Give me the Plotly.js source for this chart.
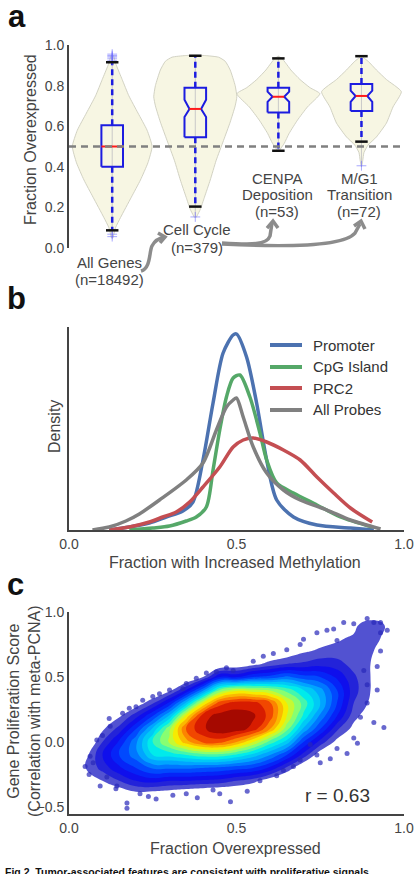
<!DOCTYPE html>
<html><head><meta charset="utf-8">
<script src="https://cdn.plot.ly/plotly-3.0.1.min.js"></script>
<style>html,body{margin:0;padding:0;background:#fff;}#chart{width:414px;height:874px;}</style>
</head><body><div id="chart"></div>
<script>
// ================= Panel a : fraction overexpressed by gene set =================
const groupNames = ['All Genes', 'Cell Cycle', 'CENPA Deposition', 'M/G1 Transition'];
const groupLabelLines = [['All Genes'], ['Cell Cycle'], ['CENPA', 'Deposition'], ['M/G1', 'Transition']];
const groupN = [18492, 379, 53, 72];
const groupPos = [1, 2, 3, 4];
const boxQ1 = [0.400, 0.545, 0.668, 0.675];
const boxMedian = [0.500, 0.685, 0.745, 0.749];
const boxQ3 = [0.605, 0.790, 0.790, 0.808];
const notchLo = [0.500, 0.645, 0.720, 0.720];
const notchHi = [0.500, 0.730, 0.770, 0.775];
const whiskerLo = [0.087, 0.204, 0.479, 0.524];
const whiskerHi = [0.915, 0.947, 0.934, 0.945];
const boxNotched = [false, true, true, true];
const outlierGroup = [1, 1, 1, 1, 1, 1, 1, 2, 4];
const outlierValue = [0.925, 0.935, 0.942, 0.948, 0.955, 0.056, 0.068, 0.153, 0.405];
const violinLevels = [
  [0.05, 0.10, 0.15, 0.25, 0.335, 0.42, 0.50, 0.58, 0.665, 0.75, 0.83, 0.90, 0.95],
  [0.15, 0.19, 0.25, 0.335, 0.43, 0.53, 0.62, 0.70, 0.745, 0.80, 0.877, 0.92, 0.94, 0.948, 0.95],
  [0.48, 0.515, 0.565, 0.63, 0.695, 0.76, 0.79, 0.83, 0.877, 0.91, 0.935, 0.945],
  [0.40, 0.43, 0.47, 0.507, 0.547, 0.615, 0.695, 0.77, 0.83, 0.877, 0.92, 0.945]
];
const violinHalfWidth = [
  [0.01, 0.04, 0.10, 0.23, 0.34, 0.43, 0.48, 0.42, 0.31, 0.20, 0.12, 0.05, 0.01],
  [0.01, 0.06, 0.11, 0.18, 0.25, 0.34, 0.42, 0.48, 0.50, 0.48, 0.42, 0.36, 0.28, 0.12, 0.0],
  [0.01, 0.07, 0.13, 0.23, 0.35, 0.50, 0.38, 0.26, 0.15, 0.09, 0.04, 0.0],
  [0.0, 0.015, 0.03, 0.08, 0.18, 0.30, 0.38, 0.48, 0.30, 0.18, 0.08, 0.0]
];
const refLine = 0.5;

// ================= Panel b : methylation densities =================
const seriesNames = ['Promoter', 'CpG Island', 'PRC2', 'All Probes'];
const seriesColors = ['#4c72b0', '#55a868', '#c44e52', '#808080'];
const promoterX = [0.12, 0.18, 0.24, 0.29, 0.34, 0.37, 0.40, 0.43, 0.46, 0.49, 0.50, 0.53, 0.56, 0.59, 0.62, 0.67, 0.74, 0.84, 0.91];
const promoterY = [0.0, 0.03, 0.07, 0.13, 0.19, 0.28, 0.70, 1.27, 1.77, 1.95, 1.96, 1.73, 1.27, 0.70, 0.30, 0.13, 0.05, 0.02, 0.0];
const cpgX = [0.18, 0.25, 0.30, 0.35, 0.38, 0.41, 0.43, 0.45, 0.47, 0.49, 0.51, 0.54, 0.57, 0.59, 0.62, 0.67, 0.74, 0.81, 0.905];
const cpgY = [0.0, 0.02, 0.04, 0.09, 0.13, 0.23, 0.60, 1.00, 1.33, 1.52, 1.55, 1.33, 0.97, 0.70, 0.47, 0.37, 0.25, 0.13, 0.03];
const prc2X = [0.12, 0.18, 0.24, 0.28, 0.32, 0.36, 0.40, 0.45, 0.49, 0.52, 0.55, 0.59, 0.64, 0.69, 0.74, 0.79, 0.84, 0.905];
const prc2Y = [0.0, 0.03, 0.08, 0.13, 0.18, 0.28, 0.43, 0.63, 0.83, 0.90, 0.92, 0.88, 0.80, 0.70, 0.53, 0.37, 0.22, 0.08];
const allProbesX = [0.07, 0.12, 0.17, 0.21, 0.27, 0.35, 0.40, 0.44, 0.47, 0.49, 0.50, 0.52, 0.55, 0.59, 0.64, 0.69, 0.77, 0.84, 0.93];
const allProbesY = [0.0, 0.03, 0.09, 0.16, 0.30, 0.50, 0.67, 1.00, 1.23, 1.30, 1.32, 1.13, 0.83, 0.57, 0.40, 0.30, 0.20, 0.10, 0.01];

// ================= Panel c : proliferation score vs fraction overexpressed =================
const gridX = [0.00, 0.05, 0.10, 0.15, 0.20, 0.25, 0.30, 0.35, 0.40, 0.45, 0.50, 0.55, 0.60, 0.65, 0.70, 0.75, 0.80, 0.85, 0.90, 0.95, 1.00];
const gridY = [-0.5, -0.4, -0.3, -0.2, -0.1, 0.0, 0.1, 0.2, 0.3, 0.4, 0.5, 0.6, 0.7, 0.8, 0.9, 1.0];
// point density (0 = no genes, 10 = densest), one row per gridY value
const densityZ = [
  /* -0.5 */ [0, 0, 0, 0, 0, 0, 0, 0, 0, 0, 0, 0, 0, 0, 0, 0, 0, 0, 0, 0, 0],
  /* -0.4 */ [0, 0, 0.2, 0.5, 0.8, 0.7, 0.6, 0.4, 0.3, 0.2, 0.2, 0, 0, 0, 0, 0, 0, 0, 0, 0, 0],
  /* -0.3 */ [0, 0.5, 1.0, 1.5, 2.0, 2.2, 2.0, 2.0, 1.9, 1.8, 1.5, 1.2, 0.6, 0.1, 0, 0, 0, 0, 0, 0, 0],
  /* -0.2 */ [0, 1.0, 1.7, 2.4, 3.0, 3.6, 3.6, 3.6, 3.5, 3.4, 3.2, 3.0, 2.4, 1.4, 0.4, 0, 0, 0, 0, 0, 0],
  /* -0.1 */ [0, 0.8, 2.0, 3.0, 3.8, 5.0, 5.2, 5.5, 5.8, 5.8, 5.4, 4.8, 4.0, 3.0, 1.8, 0.6, 0.1, 0, 0, 0, 0],
  /*  0.0 */ [0, 0.2, 1.5, 2.6, 3.9, 5.5, 6.6, 7.8, 8.6, 8.7, 8.0, 7.0, 5.8, 4.8, 3.0, 1.8, 0.8, 0.2, 0, 0, 0],
  /*  0.1 */ [0, 0, 0.9, 1.7, 3.0, 4.6, 6.4, 8.6, 9.4, 9.9, 9.8, 9.3, 8.0, 6.2, 4.4, 3.0, 1.6, 0.8, 0.2, 0, 0],
  /*  0.2 */ [0, 0, 0.2, 0.9, 1.8, 3.0, 4.6, 7.2, 9.3, 9.7, 9.8, 9.6, 8.8, 7.0, 5.4, 3.9, 2.5, 1.2, 0.6, 0, 0],
  /*  0.3 */ [0, 0, 0, 0.2, 0.6, 1.4, 2.6, 4.6, 7.0, 8.8, 9.2, 9.2, 8.6, 7.0, 5.8, 4.5, 3.0, 1.5, 0.9, 0, 0],
  /*  0.4 */ [0, 0, 0, 0, 0, 0.2, 0.8, 2.0, 3.8, 6.0, 6.8, 6.6, 6.4, 5.8, 5.0, 4.2, 3.0, 1.7, 1.0, 0, 0],
  /*  0.5 */ [0, 0, 0, 0, 0, 0, 0, 0.2, 1.0, 2.5, 2.4, 3.0, 3.2, 3.6, 3.2, 3.0, 2.4, 1.6, 1.0, 0.2, 0],
  /*  0.6 */ [0, 0, 0, 0, 0, 0, 0, 0, 0, 0.3, 0.5, 0.8, 1.2, 1.5, 1.6, 1.8, 1.7, 1.3, 1.0, 0.4, 0],
  /*  0.7 */ [0, 0, 0, 0, 0, 0, 0, 0, 0, 0, 0, 0, 0.3, 0.5, 0.9, 1.1, 1.2, 1.2, 1.1, 0.6, 0],
  /*  0.8 */ [0, 0, 0, 0, 0, 0, 0, 0, 0, 0, 0, 0, 0, 0, 0.3, 0.7, 0.9, 1.1, 1.3, 0.8, 0],
  /*  0.9 */ [0, 0, 0, 0, 0, 0, 0, 0, 0, 0, 0, 0, 0, 0, 0, 0.1, 0.4, 0.8, 1.5, 0.9, 0],
  /*  1.0 */ [0, 0, 0, 0, 0, 0, 0, 0, 0, 0, 0, 0, 0, 0, 0, 0, 0, 0, 0.1, 0, 0]
];
// sparse genes visible outside / at the fringe of the dense cloud
const edgeX = [0.048, 0.083, 0.123, 0.173, 0.173, 0.093, 0.237, 0.383, 0.482, 0.532, 0.94, 0.861, 0.83, 0.78, 0.75, 0.72, 0.61, 0.55, 0.49, 0.22, 0.20, 0.30, 0.34, 0.89, 0.92, 0.92, 0.88, 0.93, 0.93, 0.91, 0.89, 0.85, 0.79, 0.74, 0.69, 0.65, 0.80, 0.072, 0.063, 0.113, 0.143, 0.212, 0.31, 0.43, 0.64, 0.69, 0.87, 0.89, 0.16, 0.25, 0.41, 0.44, 0.35,
  0.26, 0.35, 0.45, 0.57, 0.62, 0.67, 0.74, 0.80, 0.85, 0.12, 0.18, 0.27, 0.38, 0.47, 0.58, 0.70, 0.77, 0.82, 0.93, 0.95, 0.91, 0.06, 0.10, 0.14];
const edgeY = [-0.19, 0.015, 0.12, -0.51, -0.47, -0.34, -0.42, -0.43, -0.46, -0.38, 0.11, -0.01, -0.09, -0.13, -0.16, -0.02, 0.68, 0.62, 0.55, 0.32, 0.27, 0.40, 0.41, 0.44, 0.40, 0.58, 0.55, 0.84, 0.92, 0.92, 0.95, 0.91, 0.87, 0.84, 0.75, 0.71, 0.78, -0.16, -0.11, -0.27, -0.34, -0.40, -0.41, -0.37, -0.22, -0.14, 0.19, 0.30, 0.22, 0.35, 0.53, 0.54, 0.45,
  -0.44, -0.40, -0.40, -0.30, -0.26, -0.19, -0.10, -0.05, 0.03, 0.18, 0.26, 0.37, 0.49, 0.57, 0.66, 0.79, 0.86, 0.92, 0.70, 0.86, 0.15, -0.25, 0.05, -0.36];
const corrR = 0.63;

// ================= drawing =================
const W = 414, H = 874;
const FONT = 'Liberation Sans, Arial, Helvetica, sans-serif';
const px = v => v / W;
const py = v => 1 - v / H;
const P = (x, y) => px(x).toFixed(4) + ',' + py(y).toFixed(4);

const BOX_HW = 0.13, NOTCH_HW = 0.07, CAP_HW = 0.075;
const traces = [];

// violins
groupPos.forEach((c, i) => {
  const ys = violinLevels[i], ws = violinHalfWidth[i];
  const xs = [], yy = [];
  for (let k = 0; k < ys.length; k++) { xs.push(c + ws[k]); yy.push(ys[k]); }
  for (let k = ys.length - 1; k >= 0; k--) { xs.push(c - ws[k]); yy.push(ys[k]); }
  traces.push({type: 'scatter', x: xs, y: yy, xaxis: 'x', yaxis: 'y', mode: 'lines', fill: 'toself',
    fillcolor: 'rgba(246,245,222,0.85)', line: {color: 'rgba(205,205,190,0.9)', width: 1, shape: 'spline', smoothing: 0.5},
    hoverinfo: 'skip', showlegend: false});
});
// center lines
{
  const xs = [], ys = [];
  groupPos.forEach((c, i) => { const lv = violinLevels[i]; xs.push(c, c, null); ys.push(lv[0], lv[lv.length - 1], null); });
  traces.push({type: 'scatter', x: xs, y: ys, xaxis: 'x', yaxis: 'y', mode: 'lines', line: {color: '#c9c9c9', width: 1}, hoverinfo: 'skip', showlegend: false});
}
// whiskers (dashed)
{
  const xs = [], ys = [];
  groupPos.forEach((c, i) => { xs.push(c, c, null, c, c, null); ys.push(boxQ3[i], whiskerHi[i], null, boxQ1[i], whiskerLo[i], null); });
  traces.push({type: 'scatter', x: xs, y: ys, xaxis: 'x', yaxis: 'y', mode: 'lines', line: {color: '#1c1ce0', width: 2.5, dash: '6px,4px'}, hoverinfo: 'skip', showlegend: false});
}
// outliers
traces.push({type: 'scatter', x: outlierGroup, y: outlierValue, xaxis: 'x', yaxis: 'y', mode: 'markers',
  marker: {symbol: 'cross-thin', size: 7, line: {color: 'rgba(110,110,255,0.6)', width: 1}}, hoverinfo: 'skip', showlegend: false});
// boxes
{
  const xs = [], ys = [];
  groupPos.forEach((c, i) => {
    const inset = boxNotched[i] ? NOTCH_HW : BOX_HW;
    xs.push(c - BOX_HW, c + BOX_HW, c + BOX_HW, c + inset, c + BOX_HW, c + BOX_HW, c - BOX_HW, c - BOX_HW, c - inset, c - BOX_HW, c - BOX_HW, null);
    ys.push(boxQ1[i], boxQ1[i], notchLo[i], boxMedian[i], notchHi[i], boxQ3[i], boxQ3[i], notchHi[i], boxMedian[i], notchLo[i], boxQ1[i], null);
  });
  traces.push({type: 'scatter', x: xs, y: ys, xaxis: 'x', yaxis: 'y', mode: 'lines', line: {color: '#1c1ce0', width: 2}, hoverinfo: 'skip', showlegend: false});
}
// medians
{
  const xs = [], ys = [];
  groupPos.forEach((c, i) => { const inset = boxNotched[i] ? NOTCH_HW : BOX_HW; xs.push(c - inset, c + inset, null); ys.push(boxMedian[i], boxMedian[i], null); });
  traces.push({type: 'scatter', x: xs, y: ys, xaxis: 'x', yaxis: 'y', mode: 'lines', line: {color: '#ff1a1a', width: 2}, hoverinfo: 'skip', showlegend: false});
}
// caps
{
  const xs = [], ys = [];
  groupPos.forEach((c, i) => { xs.push(c - CAP_HW, c + CAP_HW, null, c - CAP_HW, c + CAP_HW, null); ys.push(whiskerHi[i], whiskerHi[i], null, whiskerLo[i], whiskerLo[i], null); });
  traces.push({type: 'scatter', x: xs, y: ys, xaxis: 'x', yaxis: 'y', mode: 'lines', line: {color: '#111', width: 2.5}, hoverinfo: 'skip', showlegend: false});
}

// panel b curves
[[promoterX, promoterY], [cpgX, cpgY], [prc2X, prc2Y], [allProbesX, allProbesY]].forEach((s, i) => {
  traces.push({type: 'scatter', x: s[0], y: s[1], xaxis: 'x2', yaxis: 'y2', mode: 'lines', name: seriesNames[i],
    line: {color: seriesColors[i], width: 3.5, shape: 'spline', smoothing: 0.8}, hoverinfo: 'skip', showlegend: false});
});

// panel c density cloud
traces.push({type: 'contour', x: gridX, y: gridY, z: densityZ, xaxis: 'x3', yaxis: 'y3',
  zauto: false, zmin: 0, zmax: 10, autocontour: false,
  contours: {start: 0.5, end: 10, size: 0.5, coloring: 'fill', showlines: false},
  line: {width: 0, smoothing: 1.3},
  colorscale: [[0, 'rgba(255,255,255,0)'], [0.04, 'rgba(255,255,255,0)'], [0.04, 'rgba(50,50,188,0.72)'], [0.1, 'rgba(40,40,205,0.88)'],
    [0.2, 'rgb(10,10,242)'], [0.3, 'rgb(0,80,255)'], [0.4, 'rgb(0,170,255)'], [0.5, 'rgb(0,235,235)'], [0.6, 'rgb(130,255,120)'],
    [0.7, 'rgb(245,245,0)'], [0.8, 'rgb(255,150,0)'], [0.9, 'rgb(235,35,0)'], [1, 'rgb(140,0,0)']],
  showscale: false, hoverinfo: 'skip'});
traces.push({type: 'scatter', x: edgeX, y: edgeY, xaxis: 'x3', yaxis: 'y3', mode: 'markers',
  marker: {size: 5, color: 'rgba(40,40,185,0.7)'}, hoverinfo: 'skip', showlegend: false});

// ---------- layout ----------
const axBase = {showgrid: false, zeroline: false, ticks: '', linecolor: '#444', linewidth: 2,
  tickfont: {family: FONT, size: 14, color: '#444'}, fixedrange: true};
const layout = {
  width: W, height: H, margin: {l: 0, r: 0, t: 0, b: 0},
  paper_bgcolor: '#fff', plot_bgcolor: 'rgba(0,0,0,0)', showlegend: false,
  font: {family: FONT, color: '#444'},
  xaxis: Object.assign({}, axBase, {domain: [px(69), px(403)], range: [0.48, 4.5], visible: false, anchor: 'y'}),
  yaxis: Object.assign({}, axBase, {domain: [py(248), py(45)], range: [0, 1], showline: true, tickvals: [0, 0.2, 0.4, 0.6, 0.8, 1.0], tickformat: '.1f', anchor: 'x'}),
  xaxis2: Object.assign({}, axBase, {domain: [px(69), px(404)], range: [0, 1], showline: true, tickvals: [0, 0.5, 1.0], tickformat: '.1f', anchor: 'y2'}),
  yaxis2: Object.assign({}, axBase, {domain: [py(530), py(327)], range: [0, 2.03], showline: true, showticklabels: false, anchor: 'x2'}),
  xaxis3: Object.assign({}, axBase, {domain: [px(69), px(404)], range: [0, 1], showline: true, tickvals: [0, 0.5, 1.0], tickformat: '.1f', anchor: 'y3'}),
  yaxis3: Object.assign({}, axBase, {domain: [py(814), py(612)], range: [-0.555, 1.0], showline: true, tickvals: [-0.5, 0, 0.5, 1.0], tickformat: '.1f', anchor: 'x3'}),
  shapes: [], annotations: []
};

// reference line at 0.5
layout.shapes.push({type: 'line', xref: 'x domain', yref: 'y', x0: 0, x1: 1, y0: refLine, y1: refLine,
  line: {color: '#808080', width: 2.5, dash: '7px,5px'}, layer: 'above'});

// arrows between gene sets
const arrowStyle = {color: '#8c8c8c', width: 3.5};
const arrowPaths = [
  'M' + P(141, 271) + ' C' + P(151, 268) + ' ' + P(149, 252) + ' ' + P(152, 246) + ' C' + P(155, 240) + ' ' + P(159, 238) + ' ' + P(165, 237),
  'M' + P(158, 233) + ' L' + P(165, 237) + ' L' + P(160, 243),
  'M' + P(222, 243) + ' C' + P(252, 245) + ' ' + P(267, 245) + ' ' + P(270, 236) + ' L' + P(272, 223),
  'M' + P(267, 228) + ' L' + P(273, 221) + ' L' + P(278, 228),
  'M' + P(222, 244) + ' C' + P(300, 248) + ' ' + P(345, 245) + ' ' + P(355, 233) + ' L' + P(360, 224),
  'M' + P(354, 226) + ' L' + P(361, 221) + ' L' + P(365, 229)
];
arrowPaths.forEach(p => layout.shapes.push({type: 'path', xref: 'paper', yref: 'paper', path: p, line: arrowStyle, layer: 'above'}));

// legend for panel b (drawn by hand)
const legendRows = [345, 367, 388, 410];
seriesNames.forEach((n, i) => {
  layout.shapes.push({type: 'line', xref: 'paper', yref: 'paper', x0: px(270), x1: px(302), y0: py(legendRows[i]), y1: py(legendRows[i]),
    line: {color: seriesColors[i], width: 4}});
  layout.annotations.push({xref: 'paper', yref: 'paper', x: px(311), y: py(legendRows[i]), xanchor: 'left', yanchor: 'middle',
    text: n, showarrow: false, font: {family: FONT, size: 15, color: '#333'}});
});

function addText(text, x, y, size, opts) {
  layout.annotations.push(Object.assign({xref: 'paper', yref: 'paper', x: px(x), y: py(y), xanchor: 'center', yanchor: 'middle',
    text: text, showarrow: false, font: {family: FONT, size: size, color: '#444'}}, opts || {}));
}

// panel letters
addText('<b>a</b>', 17, 17, 31, {font: {family: FONT, size: 31, color: '#111'}});
addText('<b>b</b>', 16, 299, 31, {font: {family: FONT, size: 31, color: '#111'}});
addText('<b>c</b>', 15, 584, 31, {font: {family: FONT, size: 31, color: '#111'}});

// axis titles
addText('Fraction Overexpressed', 30, 140, 16, {textangle: -90});
addText('Density', 55, 427, 16, {textangle: -90});
addText('Fraction with Increased Methylation', 235, 562, 16);
addText('Gene Proliferation Score<br>(Correlation with meta-PCNA)', 24, 711, 16, {textangle: -90});
addText('Fraction Overexpressed', 235, 848, 16);

// gene-set labels
const labelCenters = [[109, [262, 279]], [197, [230, 248]], [277, [178, 194, 211]], [359, [178, 194, 211]]];
groupLabelLines.forEach((lines, i) => {
  const all = lines.concat(['(n=' + groupN[i] + ')']);
  all.forEach((t, k) => addText(t, labelCenters[i][0], labelCenters[i][1][k], 15));
});

// correlation
addText('r = ' + corrR.toFixed(2), 337, 795, 19, {font: {family: FONT, size: 19, color: '#333'}});

// caption (cut off at the bottom of the page, as in the source figure)
addText('<b>Fig 2. Tumor-associated features are consistent with proliferative signals.</b>', 3, 864, 10.5,
  {xanchor: 'left', yanchor: 'top', font: {family: FONT, size: 10.5, color: '#111'}});

Plotly.newPlot('chart', traces, layout, {staticPlot: true, displayModeBar: false});
</script>
</body></html>
